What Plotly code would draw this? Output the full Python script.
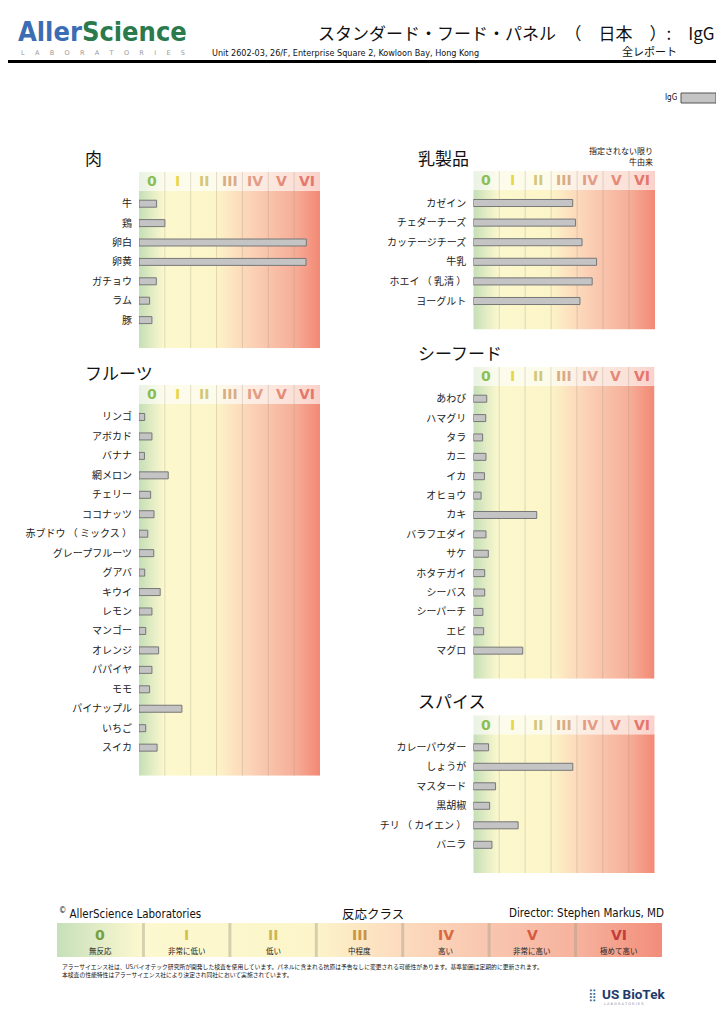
import plotly.graph_objects as go

# the page body has an 8px margin, so the figure is drawn 8px in from the window corner
OFF = 8
W, H = 724 - OFF, 1024 - OFF

CLASSES = ["0", "I", "II", "III", "IV", "V", "VI"]
CLASS_NAMES = ["無反応", "非常に低い", "低い", "中程度", "高い", "非常に高い", "極めて高い"]

meat_items = ["牛", "鶏", "卵白", "卵黄", "ガチョウ", "ラム", "豚"]
meat_igg = [0.68, 1.00, 6.47, 6.46, 0.67, 0.41, 0.50]

fruit_items = ["リンゴ", "アボカド", "バナナ", "網メロン", "チェリー", "ココナッツ",
               "赤ブドウ （ ミックス ）", "グレープフルーツ", "グアバ", "キウイ", "レモン",
               "マンゴー", "オレンジ", "パパイヤ", "モモ", "パイナップル", "いちご", "スイカ"]
fruit_igg = [0.22, 0.50, 0.21, 1.13, 0.45, 0.58, 0.34, 0.57, 0.22, 0.82, 0.50,
             0.26, 0.76, 0.50, 0.41, 1.66, 0.26, 0.70]

dairy_items = ["カゼイン", "チェダーチーズ", "カッテージチーズ", "牛乳", "ホエイ （ 乳清 ）", "ヨーグルト"]
dairy_igg = [3.83, 3.94, 4.19, 4.75, 4.58, 4.11]

seafood_items = ["あわび", "ハマグリ", "タラ", "カニ", "イカ", "オヒョウ", "カキ", "バラフエダイ",
                 "サケ", "ホタテガイ", "シーバス", "シーパーチ", "エビ", "マグロ"]
seafood_igg = [0.52, 0.48, 0.36, 0.49, 0.43, 0.30, 2.45, 0.49, 0.58, 0.44, 0.44, 0.37, 0.40, 1.91]

spice_items = ["カレーパウダー", "しょうが", "マスタード", "黒胡椒", "チリ （ カイエン ）", "バニラ"]
spice_igg = [0.59, 3.84, 0.86, 0.63, 1.73, 0.72]

CJK = "Noto Sans CJK JP, sans-serif"
BOLD = "DejaVu Sans, sans-serif"
NARROW = "Liberation Sans Narrow, DejaVu Sans Condensed, Roboto, sans-serif"

# class gradient (green -> yellow -> salmon), positions over 0..7
GRAD = [(0.0, (196, 223, 182)), (0.07, (226, 236, 196)), (0.14, (252, 248, 205)),
        (0.42, (252, 245, 200)), (0.57, (252, 218, 187)), (0.71, (249, 196, 172)),
        (0.86, (246, 174, 152)), (1.0, (242, 136, 116))]
HEAD_COLS = ["#8bbf55", "#e6d64a", "#d3c77a", "#d8ac84", "#e39c86", "#e48b78", "#e5766b"]
FOOT_COLS = ["#74a142", "#d6c044", "#cbb655", "#c99440", "#d8693e", "#d55a40", "#c43c3c"]


def scale(pale=0.0):
    # mix with white for the lighter header strip
    out = []
    for p, (r, g, b) in GRAD:
        r, g, b = [int(c + (255 - c) * pale) for c in (r, g, b)]
        out.append([p, f"rgb({r},{g},{b})"])
    return out


def px(x):
    return (x - OFF) / W


def py(y):
    return 1 - (y - OFF) / H


# panel placement: title, items, values, x0, x1, first row y, row step, title pos
panels = [
    ("肉", meat_items, meat_igg, 139, 320, 203.7, 19.4, (83, 158)),
    ("フルーツ", fruit_items, fruit_igg, 139, 320, 417, 19.45, (83, 372)),
    ("乳製品", dairy_items, dairy_igg, 473.3, 655, 203, 19.6, (416, 158)),
    ("シーフード", seafood_items, seafood_igg, 473.3, 654.5, 398.7, 19.38, (416, 352)),
    ("スパイス", spice_items, spice_igg, 473.3, 654.7, 747.3, 19.5, (416, 700)),
]

fig = go.Figure()
layout = dict(width=W, height=H, margin=dict(l=0, r=0, t=0, b=0), showlegend=False,
              paper_bgcolor="white", plot_bgcolor="rgba(0,0,0,0)", template="none")
annotations = []
shapes = []

TOP, HEAD_BOT = -1.65, -0.67

for i, (title, items, vals, x0, x1, r0, step, tpos) in enumerate(panels):
    k = "" if i == 0 else str(i + 1)
    ko = str(i + 6)  # overlay y axis so bars sit above the gradient
    n = len(items)
    bot = n + 0.45
    xa, ya, yo = "x" + k, "y" + k, "y" + ko

    fig.add_trace(go.Scatter(x=[0, 7, 7, 0, 0], y=[HEAD_BOT, HEAD_BOT, bot, bot, HEAD_BOT],
                             fill="toself", mode="lines", line=dict(width=0),
                             fillgradient=dict(type="horizontal", colorscale=scale()),
                             hoverinfo="skip", xaxis=xa, yaxis=ya))
    fig.add_trace(go.Scatter(x=[0, 7, 7, 0, 0], y=[TOP, TOP, HEAD_BOT, HEAD_BOT, TOP],
                             fill="toself", mode="lines", line=dict(width=0),
                             fillgradient=dict(type="horizontal", colorscale=scale(0.62)),
                             hoverinfo="skip", xaxis=xa, yaxis=ya))
    gx, gy = [], []
    for c in range(1, 7):
        gx += [c, c, None]
        gy += [TOP, bot, None]
    fig.add_trace(go.Scatter(x=gx, y=gy, mode="lines", hoverinfo="skip",
                             line=dict(color="rgba(150,140,120,0.28)", width=1),
                             xaxis=xa, yaxis=ya))
    fig.add_trace(go.Bar(x=vals, y=list(range(n)), orientation="h", width=0.36,
                         marker=dict(color="#c4c4c4", line=dict(color="#777", width=1)),
                         xaxis=xa, yaxis=yo))

    top_px = r0 + TOP * step
    bot_px = r0 + bot * step
    layout["xaxis" + k] = dict(domain=[px(x0), px(x1)], range=[0, 7], anchor=ya,
                               visible=False, fixedrange=True)
    layout["yaxis" + k] = dict(domain=[py(bot_px), py(top_px)], range=[bot, TOP], anchor=xa,
                               tickvals=list(range(n)), ticktext=items, ticks="",
                               showgrid=False, zeroline=False, showline=False,
                               ticklabelstandoff=6, fixedrange=True,
                               tickfont=dict(family=CJK, size=10, color="#222"))
    layout["yaxis" + ko] = dict(overlaying=ya, anchor=xa, range=[bot, TOP],
                                visible=False, fixedrange=True)

    for c, lab in enumerate(CLASSES):
        annotations.append(dict(x=c + 0.5, y=(TOP + HEAD_BOT) / 2, xref=xa, yref=ya,
                                text=f"<b>{lab}</b>", showarrow=False,
                                font=dict(family=BOLD, size=14, color=HEAD_COLS[c])))
    annotations.append(dict(x=px(tpos[0]), y=py(tpos[1]), xref="paper", yref="paper",
                            xanchor="left", yanchor="middle", text=title, showarrow=False,
                            font=dict(family=CJK, size=17, color="#111")))

# footer legend strip
layout["xaxis11"] = dict(domain=[px(57), px(662)], range=[0, 7], anchor="y11",
                         visible=False, fixedrange=True)
layout["yaxis11"] = dict(domain=[py(957), py(923)], range=[0, 1], anchor="x11",
                         visible=False, fixedrange=True)
fig.add_trace(go.Scatter(x=[0, 7, 7, 0, 0], y=[0, 0, 1, 1, 0], fill="toself", mode="lines",
                         line=dict(width=0), hoverinfo="skip",
                         fillgradient=dict(type="horizontal", colorscale=scale(0.05)),
                         xaxis="x11", yaxis="y11"))
sx, sy = [], []
for c in range(1, 7):
    sx += [c, c, None]
    sy += [0, 1, None]
fig.add_trace(go.Scatter(x=sx, y=sy, mode="lines", hoverinfo="skip",
                         line=dict(color="rgba(170,160,140,0.45)", width=3),
                         xaxis="x11", yaxis="y11"))
for c, lab in enumerate(CLASSES):
    annotations.append(dict(x=c + 0.5, y=0.66, xref="x11", yref="y11", text=f"<b>{lab}</b>",
                            showarrow=False,
                            font=dict(family=BOLD, size=14, color=FOOT_COLS[c])))
    annotations.append(dict(x=c + 0.5, y=0.2, xref="x11", yref="y11", text=CLASS_NAMES[c],
                            showarrow=False, font=dict(family=CJK, size=7.5, color="#222")))


def note(x, y, text, size, anchor="left", family=CJK, color="#111"):
    annotations.append(dict(x=px(x), y=py(y), xref="paper", yref="paper", xanchor=anchor,
                            yanchor="middle", text=text, showarrow=False,
                            font=dict(family=family, size=size, color=color)))


# page header
note(16, 32, "<b><span style='color:#3b6db4'>Aller</span>"
     "<span style='color:#2b7a4c'>Science</span></b>", 27, family=NARROW)
note(19, 53, "L     A     B     O     R     A     T     O     R     I     E     S", 6.5,
     family="DejaVu Sans", color="#999")
note(717, 33, "スタンダード・フード・パネル　（　日本　）:　IgG", 17, anchor="right")
note(210, 53, "Unit 2602-03, 26/F, Enterprise Square 2, Kowloon Bay, Hong Kong", 9,
     family=NARROW)
note(649, 51, "全レポート", 11, anchor="center")
shapes.append(dict(type="line", xref="paper", yref="paper", x0=0, x1=1,
                   y0=py(61.5), y1=py(61.5), line=dict(color="black", width=3)))

# IgG key
note(679, 98, "IgG", 8, anchor="right", family=NARROW)
shapes.append(dict(type="rect", xref="paper", yref="paper", x0=px(681), x1=px(716),
                   y0=py(103), y1=py(93), fillcolor="#c4c4c4",
                   line=dict(color="#555", width=1)))

note(655, 151, "指定されない限り", 8, anchor="right")
note(655, 161.5, "牛由来", 8, anchor="right")

# footer
note(57, 913, "<sup>©</sup> AllerScience Laboratories", 11.5, family=NARROW)
note(373, 913, "反応クラス", 12.5, anchor="center")
note(666, 913, "Director: Stephen Markus, MD", 11.5, anchor="right", family=NARROW)
note(60, 966, "アラーサイエンス社は、USバイオテック研究所が開発した検査を使用しています。"
     "パネルに含まれる抗原は予告なしに変更される可能性があります。基準範囲は定期的に更新されます。",
     5.8)
note(60, 974, "本検査の性能特性はアラーサイエンス社により決定され同社において実施されています。", 5.8)
note(586, 995, "⣿", 12, family="DejaVu Sans", color="#2f6b8a")
note(600, 994, "<b>US BioTek</b>", 13.5, family="Roboto, sans-serif", color="#1f3a6d")
note(602, 1004, "L A B O R A T O R I E S", 3.5, family="DejaVu Sans", color="#889")

layout["annotations"] = annotations
layout["shapes"] = shapes
fig.update_layout(**layout)

fig.write_html("out.html")
